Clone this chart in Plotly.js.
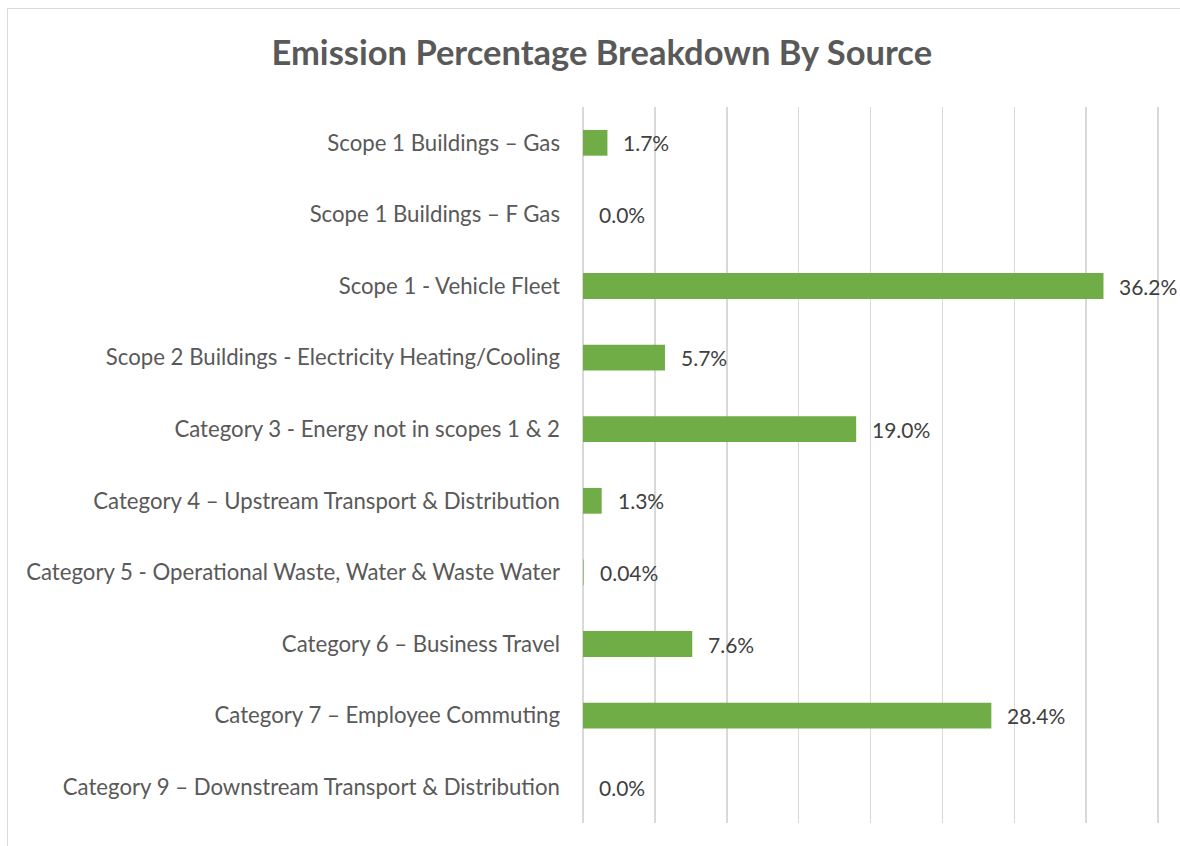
<!DOCTYPE html>
<html>
<head>
<meta charset="utf-8">
<script src="https://cdn.plot.ly/plotly-3.0.1.min.js"></script>
<style>
  html, body { margin: 0; padding: 0; background: #ffffff; }
  #wrap { position: relative; width: 1180px; height: 846px; overflow: hidden; }
  #chart { width: 1180px; height: 846px; }
  #frame { position: absolute; left: 7px; top: 8px; width: 1200px; height: 900px;
           border-left: 1.5px solid #d9d9d9; border-top: 1.5px solid #d9d9d9; pointer-events: none; }
</style>
</head>
<body>
<div id="wrap">
  <div id="chart"></div>
  <div id="frame"></div>
</div>
<script>
const categories = [
  "Scope 1 Buildings \u2013 Gas",
  "Scope 1 Buildings \u2013 F Gas",
  "Scope 1 - Vehicle Fleet",
  "Scope 2 Buildings - Electricity Heating/Cooling",
  "Category 3 - Energy not in scopes 1 & 2",
  "Category 4 \u2013 Upstream Transport & Distribution",
  "Category 5 - Operational Waste, Water & Waste Water",
  "Category 6 \u2013 Business Travel",
  "Category 7 \u2013 Employee Commuting",
  "Category 9 \u2013 Downstream Transport & Distribution"
];
const percentages = [1.7, 0.0, 36.2, 5.7, 19.0, 1.3, 0.04, 7.6, 28.4, 0.0];
const valueLabels = ["1.7%", "0.0%", "36.2%", "5.7%", "19.0%", "1.3%", "0.04%", "7.6%", "28.4%", "0.0%"];

const FONT = "Lato, 'Open Sans', sans-serif";

const trace = {
  type: "bar",
  orientation: "h",
  y: categories,
  x: percentages,
  width: 0.36,
  marker: { color: "#70ad47" },
  hoverinfo: "skip"
};

const annotations = categories.map((c, i) => ({
  x: percentages[i],
  y: c,
  xref: "x",
  yref: "y",
  text: valueLabels[i],
  showarrow: false,
  xanchor: "left",
  yanchor: "middle",
  xshift: 14,
  font: { family: FONT, size: 21, color: "#404040" }
}));

const layout = {
  width: 1180,
  height: 846,
  margin: { l: 583, r: 19, t: 107, b: 23 },
  paper_bgcolor: "#ffffff",
  plot_bgcolor: "#ffffff",
  showlegend: false,
  title: {
    text: "<b>Emission Percentage Breakdown By Source</b>",
    x: 0.51,
    xanchor: "center",
    y: 0.937,
    yanchor: "middle",
    font: { family: FONT, size: 34.5, color: "#595959" }
  },
  xaxis: {
    range: [0, 40.2],
    tick0: 0,
    dtick: 5,
    showgrid: true,
    gridcolor: "#d9d9d9",
    gridwidth: 1.5,
    zeroline: true,
    zerolinecolor: "#d9d9d9",
    zerolinewidth: 1.5,
    showticklabels: false,
    showline: false,
    fixedrange: true
  },
  yaxis: {
    type: "category",
    categoryorder: "array",
    categoryarray: categories,
    autorange: "reversed",
    showgrid: false,
    zeroline: false,
    showline: false,
    ticks: "",
    ticklabelstandoff: 22,
    tickfont: { family: FONT, size: 22.2, color: "#595959" },
    fixedrange: true
  },
  annotations: annotations
};

Plotly.newPlot("chart", [trace], layout, { displayModeBar: false, staticPlot: true });
</script>
</body>
</html>
